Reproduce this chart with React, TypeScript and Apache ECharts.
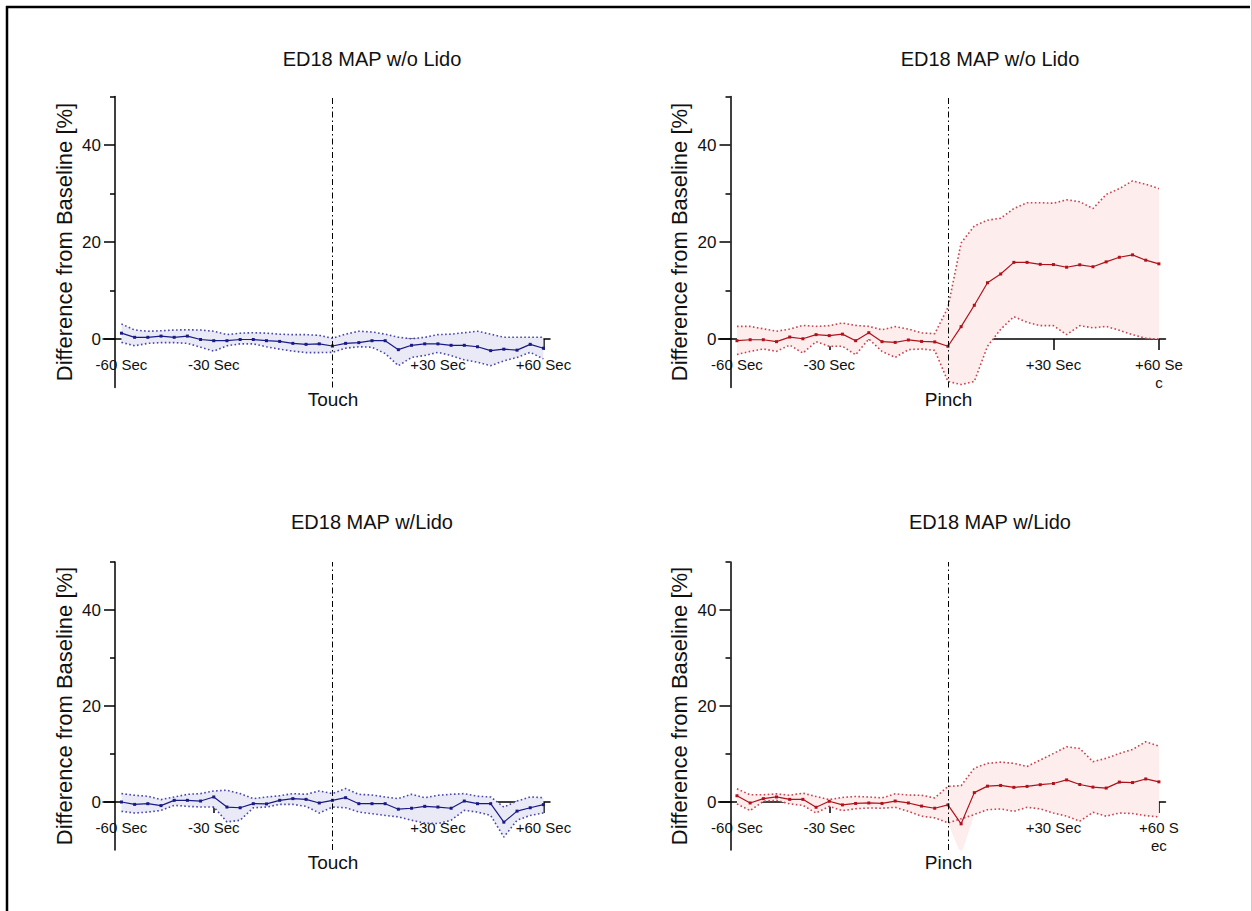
import React, { useEffect, useRef } from 'react';
import * as echarts from 'echarts';

const panelTitles = ['ED18 MAP w/o Lido', 'ED18 MAP w/o Lido', 'ED18 MAP w/Lido', 'ED18 MAP w/Lido'];
const xNames = ['Touch', 'Pinch', 'Touch', 'Pinch'];
const yName = 'Difference from Baseline [%]';
const xLabelIdx = [0, 7, 24, 32];
const xTickIdx = [7, 24, 32];
const labelsA = ['-60 Sec', '-30 Sec', '+30 Sec', '+60 Sec'];
const labelsB = ['-60 Sec', '-30 Sec', '+30 Sec', '+60 Se\nc'];
const labelsC = ['-60 Sec', '-30 Sec', '+30 Sec', '+60 Sec'];
const labelsD = ['-60 Sec', '-30 Sec', '+30 Sec', '+60 S\nec'];
const yMajor = [0, 20, 40];
const yMinor = [10, 30, 50];
const yMin = -10;
const yMax = 50;
const stimulusIdx = 16;

// Touch, w/o Lido
const p1Mean = [1.2, 0.35, 0.35, 0.6, 0.35, 0.6, -0.1, -0.35, -0.35, -0.1, -0.1, -0.35, -0.5, -0.9, -1.1, -1.0, -1.45, -0.9, -0.75, -0.35, -0.35, -2.2, -1.3, -1.0, -1.0, -1.3, -1.3, -1.6, -2.4, -2.1, -2.3, -1.1, -1.9];
const p1Upper = [3.1, 1.85, 1.6, 1.7, 1.85, 1.9, 1.85, 1.6, 0.9, 1.2, 1.3, 1.2, 1.0, 0.9, 0.9, 0.75, 0.15, 1.0, 1.6, 1.45, 1.0, 0.35, 0.05, 0.35, 0.9, 1.0, 1.3, 1.6, 1.0, 0.35, 0.35, 0.35, 0.35];
const p1Lower = [-0.7, -1.4, -0.9, -0.75, -0.75, -0.9, -1.7, -2.5, -1.4, -1.0, -1.0, -1.6, -2.1, -2.5, -2.8, -2.8, -2.75, -1.9, -1.6, -1.7, -3.0, -5.5, -3.8, -3.4, -2.75, -3.4, -4.3, -4.8, -5.5, -4.5, -3.8, -2.75, -4.1];

// Pinch, w/o Lido
const p2Mean = [-0.35, -0.15, -0.15, -0.55, 0.4, 0.05, 0.9, 0.7, 1.0, -0.35, 1.3, -0.55, -0.7, -0.2, -0.5, -0.6, -1.5, 2.55, 6.95, 11.6, 13.4, 15.8, 15.8, 15.4, 15.35, 14.8, 15.3, 14.9, 15.9, 16.85, 17.35, 16.25, 15.5];
const p2Upper = [2.6, 2.6, 2.1, 1.6, 2.05, 2.8, 2.6, 2.75, 3.3, 2.8, 2.6, 1.9, 2.55, 2.05, 1.25, 1.1, 6.5, 19.8, 23.3, 24.5, 24.9, 26.9, 28.1, 28.1, 28.0, 28.7, 28.3, 26.9, 29.8, 31.0, 32.6, 31.9, 31.0];
const p2Lower = [-3.2, -2.55, -2.05, -2.55, -1.25, -2.9, -0.55, -1.5, -1.5, -3.25, 0, -2.55, -3.8, -2.2, -2.05, -2.35, -8.75, -9.4, -8.75, -1.5, 2.0, 4.6, 3.45, 2.75, 2.75, 0.9, 2.75, 2.3, 2.6, 1.8, 0.9, 0.15, 0];

// Touch, w/Lido
const p3Mean = [0, -0.5, -0.35, -0.75, 0.35, 0.35, 0.2, 1.05, -1.05, -1.2, -0.35, -0.4, 0.35, 0.7, 0.55, -0.2, 0.35, 0.9, -0.35, -0.35, -0.35, -1.5, -1.3, -0.9, -1.05, -1.3, 0.2, -0.35, -0.35, -4.2, -1.9, -1.2, -0.55];
const p3Upper = [1.75, 1.4, 1.2, 0.5, 1.05, 1.6, 1.75, 2.3, 2.45, 1.75, 0.7, 1.05, 1.3, 1.75, 1.6, 2.3, 1.75, 2.8, 1.6, 1.45, 1.05, 0.7, 1.6, 0.9, 1.4, 1.6, 1.75, 1.2, 1.05, -1.05, 0.2, 1.05, 0.9];
const p3Lower = [-1.95, -2.3, -2.1, -1.75, -0.7, -0.9, -1.05, -1.05, -4.15, -3.8, -1.2, -1.05, -0.5, -0.5, -0.9, -2.3, -1.05, -1.2, -2.1, -2.45, -2.8, -3.1, -3.8, -4.4, -4.5, -3.8, -1.75, -2.1, -2.8, -7.3, -3.8, -2.8, -2.3];

// Pinch, w/Lido
const p4Mean = [1.3, -0.2, 0.7, 1.05, 0.55, 0.55, -1.1, 0.15, -0.6, -0.3, -0.2, -0.3, 0.2, -0.2, -0.85, -1.3, -0.6, -4.55, 1.95, 3.3, 3.45, 3.05, 3.25, 3.6, 3.85, 4.6, 3.65, 3.1, 2.9, 4.15, 4.05, 4.8, 4.2];
const p4Upper = [2.75, 1.5, 1.5, 1.7, 1.4, 1.85, 1.15, 0.5, 0.95, 1.15, 1.05, 0.85, 1.7, 1.45, 1.4, 0.85, 3.25, 3.4, 7.05, 8.05, 8.3, 8.05, 7.4, 8.75, 10.1, 11.5, 11.15, 8.4, 9.1, 10.1, 10.95, 12.55, 11.65];
const p4Lower = [-0.4, -1.8, 0.15, 0.35, -0.4, -0.7, -2.3, -0.9, -1.8, -1.4, -1.25, -1.3, -1.1, -1.95, -2.95, -3.3, -4.35, -3.5, -2.6, -1.6, -1.45, -1.95, -1.1, -1.45, -2.3, -2.95, -4.0, -2.15, -2.95, -2.3, -2.4, -2.85, -3.1];
const p4FillLower = [-0.4, -1.8, 0.15, 0.35, -0.4, -0.7, -2.3, -0.9, -1.8, -1.4, -1.25, -1.3, -1.1, -1.95, -2.95, -3.3, -4.35, -11, -2.6, -1.6, -1.45, -1.95, -1.1, -1.45, -2.3, -2.95, -4.0, -2.15, -2.95, -2.3, -2.4, -2.85, -3.1];

const FONT = '"Liberation Sans", Arial, Helvetica, sans-serif';

const BLUE = { line: '#1a1a86', dot: '#4646b0', fill: '#eaeaf7' };
const RED = { line: '#b0121c', dot: '#c8434f', fill: '#fdeded' };

const panels = [
  { mean: p1Mean, upper: p1Upper, lower: p1Lower, fillLower: p1Lower, labels: labelsA, color: BLUE, grid: { left: 103, top: 96.5, width: 447, height: 291 } },
  { mean: p2Mean, upper: p2Upper, lower: p2Lower, fillLower: p2Lower, labels: labelsB, color: RED, grid: { left: 718.5, top: 96.5, width: 447, height: 291 } },
  { mean: p3Mean, upper: p3Upper, lower: p3Lower, fillLower: p3Lower, labels: labelsC, color: BLUE, grid: { left: 103, top: 562, width: 447, height: 288 } },
  { mean: p4Mean, upper: p4Upper, lower: p4Lower, fillLower: p4FillLower, labels: labelsD, color: RED, grid: { left: 718.5, top: 562, width: 447, height: 288 } },
];

const titlePos = [[372, 58.5], [990, 58.5], [372, 521.5], [990, 521.5]];

const pairs = (arr: number[]) => arr.map((v, i) => [i, v]);

function buildOption() {
  const grid: any[] = [];
  const xAxis: any[] = [];
  const yAxis: any[] = [];
  const series: any[] = [];
  const graphic: any[] = [];
  const axisLine = { color: '#000', width: 1.5 };

  panels.forEach((p, i) => {
    grid.push({ ...p.grid, containLabel: false });
    // place the x axis on the zero line by offsetting it up from the grid bottom
    const zeroOffset = -(p.grid.height * (0 - yMin)) / (yMax - yMin);
    xAxis.push({
      type: 'value',
      gridIndex: i,
      min: -1.4,
      max: 32.5,
      position: 'bottom',
      offset: zeroOffset,
      axisLine: { show: true, onZero: false, lineStyle: axisLine },
      axisTick: { show: true, customValues: xTickIdx, length: 11, lineStyle: axisLine },
      axisLabel: {
        show: true,
        customValues: xLabelIdx,
        formatter: (v: number) => p.labels[xLabelIdx.indexOf(Math.round(v))] ?? '',
        fontSize: 15,
        fontFamily: FONT,
        color: '#111',
        margin: 16,
        lineHeight: 18,
      },
      splitLine: { show: false },
      name: xNames[i],
      nameLocation: 'middle',
      nameGap: 51,
      nameMoveOverlap: false,
      nameTextStyle: { fontSize: 19, fontFamily: FONT, color: '#111', padding: [0, 0, 0, 13] },
    });
    yAxis.push({
      type: 'value',
      gridIndex: i,
      min: yMin,
      max: yMax,
      position: 'left',
      offset: -12,
      axisLine: { show: true, onZero: false, lineStyle: axisLine },
      axisTick: { show: true, customValues: yMajor, length: 11, lineStyle: axisLine },
      axisLabel: { show: true, customValues: yMajor, fontSize: 17, fontFamily: FONT, color: '#111', margin: 14 },
      splitLine: { show: false },
      name: yName,
      nameLocation: 'middle',
      nameGap: 40,
      nameMoveOverlap: false,
      nameTextStyle: { fontSize: 22, fontFamily: FONT, color: '#111' },
    });
    yAxis.push({
      type: 'value',
      gridIndex: i,
      min: yMin,
      max: yMax,
      position: 'left',
      offset: -12,
      axisLine: { show: false, onZero: false },
      axisTick: { show: true, customValues: yMinor, length: 5, lineStyle: axisLine },
      axisLabel: { show: false },
      splitLine: { show: false },
    });

    const yIdx = i * 2;
    series.push({
      type: 'custom',
      xAxisIndex: i,
      yAxisIndex: yIdx,
      data: p.upper.map((u, k) => [k, p.fillLower[k], u]),
      encode: { x: 0, y: [1, 2] },
      clip: true,
      silent: true,
      z: 1,
      renderItem: (params: any, api: any) => {
        if (params.dataIndex !== 0) return null;
        const top = p.upper.map((u, k) => api.coord([k, u]));
        const bottom = p.fillLower.map((l, k) => api.coord([k, l])).reverse();
        return {
          type: 'polygon',
          shape: { points: top.concat(bottom) },
          style: { fill: p.color.fill, stroke: 'none' },
        };
      },
    });
    [p.upper, p.lower].forEach((arr) => {
      series.push({
        type: 'line',
        xAxisIndex: i,
        yAxisIndex: yIdx,
        data: pairs(arr),
        symbol: 'none',
        lineStyle: { color: p.color.dot, width: 1.6, type: [1.6, 2.4] },
        silent: true,
        z: 2,
      });
    });
    series.push({
      type: 'line',
      xAxisIndex: i,
      yAxisIndex: yIdx,
      data: pairs(p.mean),
      symbol: 'rect',
      symbolSize: 3,
      itemStyle: { color: p.color.line },
      lineStyle: { color: p.color.line, width: 1.2 },
      z: 3,
      markLine: {
        silent: true,
        symbol: ['none', 'none'],
        label: { show: false },
        lineStyle: { color: '#000', width: 1, type: [6, 3, 1.5, 3] },
        data: [{ xAxis: stimulusIdx }],
        z: 4,
      },
    });

    graphic.push({
      type: 'text',
      x: titlePos[i][0],
      y: titlePos[i][1],
      style: {
        text: panelTitles[i],
        fill: '#111',
        fontSize: 20,
        fontFamily: FONT,
        align: 'center',
        verticalAlign: 'middle',
      },
    });
  });

  graphic.push({ type: 'line', shape: { x1: 6, y1: 7, x2: 1250, y2: 7 }, style: { stroke: '#000', lineWidth: 2.5 } });
  graphic.push({ type: 'line', shape: { x1: 7, y1: 6, x2: 7, y2: 911 }, style: { stroke: '#000', lineWidth: 2.5 } });
  graphic.push({ type: 'line', shape: { x1: 1251.5, y1: 0, x2: 1251.5, y2: 911 }, style: { stroke: '#cccccc', lineWidth: 1 } });

  return {
    animation: false,
    backgroundColor: '#ffffff',
    grid,
    xAxis,
    yAxis,
    series,
    graphic,
  };
}

export default function App() {
  const ref = useRef<HTMLDivElement>(null);
  useEffect(() => {
    if (!ref.current) return;
    const chart = echarts.init(ref.current, undefined, { renderer: 'svg' });
    chart.setOption(buildOption());
    return () => chart.dispose();
  }, []);
  return (
    <div
      ref={ref}
      style={{ position: 'absolute', left: 0, top: 0, width: 1252, height: 911, background: '#fff' }}
    />
  );
}
